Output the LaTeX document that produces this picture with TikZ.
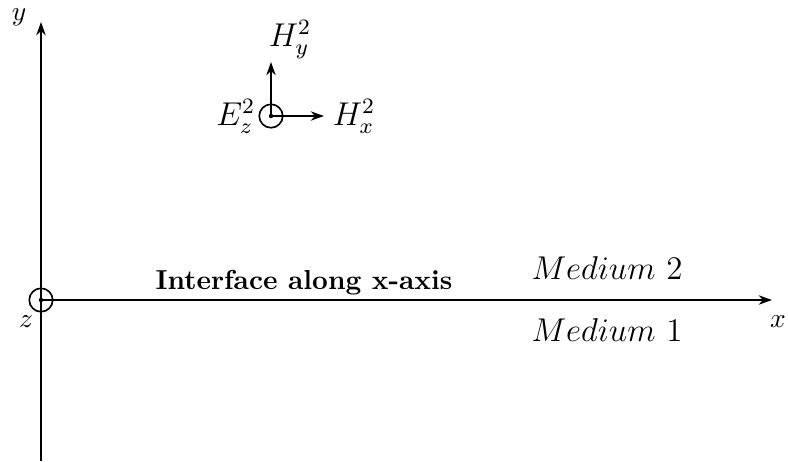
\documentclass[tikz,border=0pt]{standalone}
\usepackage{amsmath}
\usepackage{tikz}
\usetikzlibrary{arrows.meta, positioning, calc}

\begin{document}
\begin{tikzpicture}[
  x=0.364pt, y=-0.364pt,
  font=\normalsize,
  >={Stealth[length=1.7mm,width=1.2mm]},
  axis/.style={line width=0.75pt, ->},
  field/.style={line width=0.6pt, ->},
  outof/.style={circle, draw, line width=0.6pt, minimum size=3mm, inner sep=0pt},
  lbl/.style={inner sep=0pt}
]
\useasboundingbox (0,0) rectangle (788,461);

% Axes
\coordinate (ybot) at (41,461);
\coordinate (ytop) at (41,22);
\coordinate (xend) at (772,300);
\node[outof] (orig) at (41,300) {};
\fill (orig.center) circle (0.8pt);
\draw[axis] (ybot) -- (ytop);
\draw[axis] (orig.center) -- (xend);

% Axis labels
\node[lbl] (ylab) at (19,17) {$y$};
\node[lbl] (xlab) at (778,322) {$x$};
\node[lbl] (zlab) at (26,322) {$z$};

% Field components in medium 2
\node[outof] (ez) at (271,116) {};
\fill (ez.center) circle (0.8pt);
\coordinate (hytip) at (271,62);
\coordinate (hxtip) at (324,116);
\draw[field] (ez.center) -- (hytip);
\draw[field] (ez.center) -- (hxtip);
\node[lbl, above right=1pt and -1pt of hytip] (hy) {\large$H_y^2$};
\node[lbl, left=1pt of ez] (ezl) {\large$E_z^2$};
\node[lbl, right=3pt of hxtip] (hx) {\large$H_x^2$};

% Interface and media
\node[lbl] (iface) at (304,283) {\textbf{Interface along x-axis}};
\node[lbl] (med2) at (607,268) {\large$Medium\ 2$};
\node[lbl] (med1) at (607,330) {\large$Medium\ 1$};

\end{tikzpicture}
\end{document}
